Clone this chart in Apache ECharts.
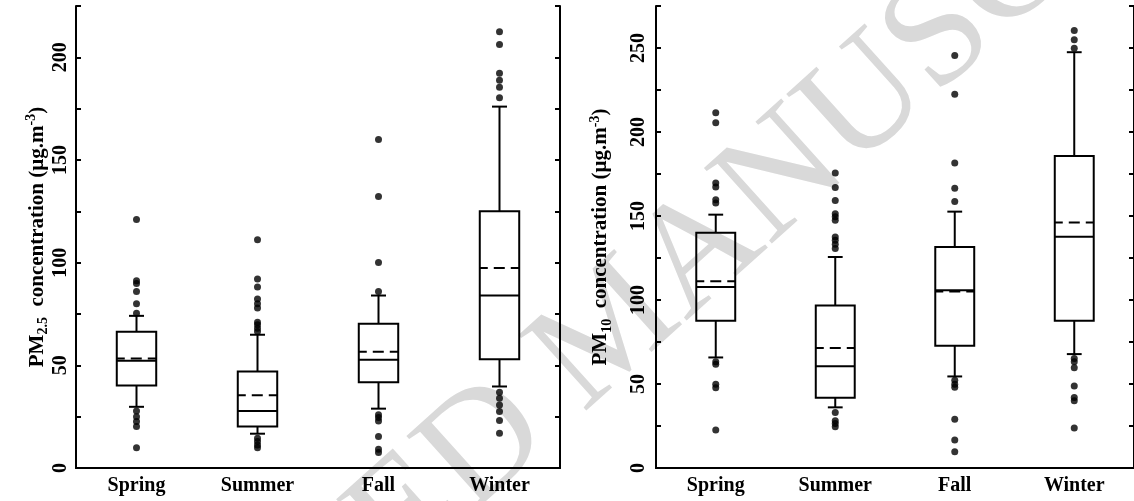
<!DOCTYPE html>
<html>
<head>
<meta charset="utf-8">
<script src="https://cdn.jsdelivr.net/npm/echarts@6/dist/echarts.min.js"></script>
<style>
html,body{margin:0;padding:0;background:#fff;}
#chart{width:1134px;height:501px;}
</style>
</head>
<body>
<div id="chart"></div>
<script>
// ---------- data ----------
const categories = ['Spring', 'Summer', 'Fall', 'Winter'];

// PM2.5 panel
const pm25WhiskerLow  = [29.8, 16.7, 28.9, 39.7];
const pm25Q1          = [40.2, 20.2, 41.8, 53.0];
const pm25Median      = [52.2, 27.8, 52.7, 84.0];
const pm25Q3          = [66.3, 47.0, 70.2, 125.0];
const pm25WhiskerHigh = [74.1, 64.9, 84.0, 176.0];
const pm25Mean        = [53.3, 35.4, 56.6, 97.4];
const pm25OutSpring = [121, 91.2, 89.9, 85.9, 80, 75.4, 27.8, 25, 22.6, 20.2, 9.9];
const pm25OutSummer = [111.2, 92, 88.1, 82.3, 80, 77.9, 71, 69.8, 68.1, 66.5, 14.5, 12.9, 11.2, 9.9];
const pm25OutFall   = [160, 132.2, 100.1, 86, 25.9, 24.6, 22.9, 15.3, 9.1, 7.6];
const pm25OutWinter = [212.4, 206.3, 192.2, 188.8, 185.4, 180.3, 36.9, 34, 30.7, 27.5, 23.1, 16.9];

// PM10 panel
const pm10WhiskerLow  = [65.8, 36.1, 54.5, 67.8];
const pm10Q1          = [87.6, 41.8, 72.7, 87.6];
const pm10Median      = [107.8, 60.6, 105.8, 137.7];
const pm10Q3          = [140.1, 96.7, 131.6, 185.7];
const pm10WhiskerHigh = [150.8, 125.6, 152.6, 247.5];
const pm10Mean        = [111.2, 71.5, 105.0, 146.1];
const pm10OutSpring = [211.5, 205.5, 169.6, 167.2, 159.7, 157.7, 63.2, 61.8, 49.9, 47.7, 22.6];
const pm10OutSummer = [175.6, 166.9, 159.3, 151.4, 149.5, 147.4, 137.5, 135.5, 133.2, 130.6, 33, 28.1, 26.5, 24.6];
const pm10OutFall   = [245.5, 222.5, 181.5, 166.5, 158.6, 52.3, 49.9, 48, 29, 16.6, 9.7];
const pm10OutWinter = [260.4, 254.9, 249.9, 65.2, 63.2, 59.6, 48.8, 42, 40, 23.8];

const pm25Max = 225, pm10Max = 275, tickStep = 25, labelStep = 50;
const watermarkText = 'ACCEPTED MANUSCRIPT';

// ---------- helpers ----------
const FONT = 'Liberation Serif';
function boxData(lo, q1, md, q3, hi, mean) {
  return categories.map((c, i) => [i, lo[i], q1[i], md[i], q3[i], hi[i], mean[i]]);
}
function outlierData(lists) {
  const out = [];
  lists.forEach((l, i) => l.forEach(v => out.push([i, v])));
  return out;
}
function renderBox(params, api) {
  const i = api.value(0);
  const lo = api.coord([i, api.value(1)]);
  const q1 = api.coord([i, api.value(2)]);
  const md = api.coord([i, api.value(3)]);
  const q3 = api.coord([i, api.value(4)]);
  const hi = api.coord([i, api.value(5)]);
  const mn = api.coord([i, api.value(6)]);
  const band = api.size([1, 0])[0];
  const cx = lo[0];
  const bw = band * 0.163, cw = band * 0.062;
  const st = {stroke: '#000', lineWidth: 2, fill: null};
  return {
    type: 'group',
    children: [
      {type: 'line', shape: {x1: cx, y1: q3[1], x2: cx, y2: hi[1]}, style: st},
      {type: 'line', shape: {x1: cx, y1: q1[1], x2: cx, y2: lo[1]}, style: st},
      {type: 'line', shape: {x1: cx - cw, y1: hi[1], x2: cx + cw, y2: hi[1]}, style: st},
      {type: 'line', shape: {x1: cx - cw, y1: lo[1], x2: cx + cw, y2: lo[1]}, style: st},
      {type: 'rect', shape: {x: cx - bw, y: q3[1], width: 2 * bw, height: q1[1] - q3[1]},
        style: {stroke: '#000', lineWidth: 2, fill: 'rgba(0,0,0,0)'}},
      {type: 'line', shape: {x1: cx - bw, y1: md[1], x2: cx + bw, y2: md[1]}, style: st},
      {type: 'line', shape: {x1: cx - bw, y1: mn[1], x2: cx + bw, y2: mn[1]},
        style: {stroke: '#000', lineWidth: 2, lineDash: [11, 6], lineDashOffset: 3}}
    ]
  };
}
function titleRich() {
  return {
    a: {fontFamily: FONT, fontWeight: 'bold', fontSize: 21, lineHeight: 26, color: '#000'},
    b: {fontFamily: FONT, fontWeight: 'bold', fontSize: 14, lineHeight: 12, verticalAlign: 'bottom', color: '#000'},
    c: {fontFamily: FONT, fontWeight: 'bold', fontSize: 14, lineHeight: 12, verticalAlign: 'top', color: '#000'}
  };
}
const lineSt = {color: '#000', width: 2};
function xAxes(gridIndex) {
  return [
    {type: 'category', gridIndex, data: categories, position: 'bottom',
     axisLine: {lineStyle: lineSt},
     axisTick: {inside: true, alignWithLabel: true, length: 6, lineStyle: {color: '#000', width: 2}},
     axisLabel: {fontFamily: FONT, fontWeight: 'bold', fontSize: 20, color: '#000', margin: 8},
     splitLine: {show: false}},
    {type: 'category', gridIndex, data: categories, position: 'top',
     axisLine: {lineStyle: lineSt},
     axisTick: {inside: true, alignWithLabel: true, length: 6, lineStyle: {color: '#000', width: 2}},
     axisLabel: {show: false}, splitLine: {show: false}}
  ];
}
function yAxes(gridIndex, max, name, nameGap, margin) {
  return [
    {type: 'value', gridIndex, min: 0, max, interval: tickStep, position: 'left',
     name, nameLocation: 'middle', nameRotate: 90, nameGap,
     nameTextStyle: {rich: titleRich()},
     axisLine: {show: true, lineStyle: lineSt},
     axisTick: {show: true, inside: true, length: 5, lineStyle: {color: '#000', width: 2}},
     axisLabel: {rotate: 90, margin, fontFamily: FONT, fontWeight: 'bold', fontSize: 20, color: '#000',
       formatter: v => (v % labelStep === 0 ? String(v) : '')},
     splitLine: {show: false}},
    {type: 'value', gridIndex, min: 0, max, interval: tickStep, position: 'right',
     axisLine: {show: true, lineStyle: lineSt},
     axisTick: {show: true, inside: true, length: 5, lineStyle: {color: '#000', width: 2}},
     axisLabel: {show: false}, splitLine: {show: false}}
  ];
}

const option = {
  animation: false,
  backgroundColor: '#fff',
  graphic: [{
    type: 'text', x: 615, y: 330, rotation: 42 * Math.PI / 180, z: -10, silent: true,
    style: {text: watermarkText, fontFamily: FONT, fontSize: 155, fill: '#d9d9d9', align: 'center', verticalAlign: 'middle'}
  }],
  grid: [
    {left: 76, top: 6, width: 484, height: 462},
    {left: 656, top: 6, width: 483, height: 462}
  ],
  xAxis: [...xAxes(0), ...xAxes(1)],
  yAxis: [
    ...yAxes(0, pm25Max, '{a|PM}{b|2.5}{a|  concentration (µg.m}{c|-3}{a|)}', 24, 5),
    ...yAxes(1, pm10Max, '{a|PM}{b|10}{a|  concentration (µg.m}{c|-3}{a|)}', 42, 7)
  ],
  series: [
    {type: 'custom', xAxisIndex: 0, yAxisIndex: 0, renderItem: renderBox, z: 3,
     data: boxData(pm25WhiskerLow, pm25Q1, pm25Median, pm25Q3, pm25WhiskerHigh, pm25Mean)},
    {type: 'scatter', xAxisIndex: 0, yAxisIndex: 0, symbol: 'circle', symbolSize: 7,
     itemStyle: {color: '#000'}, z: 4,
     data: outlierData([pm25OutSpring, pm25OutSummer, pm25OutFall, pm25OutWinter])},
    {type: 'custom', xAxisIndex: 2, yAxisIndex: 2, renderItem: renderBox, z: 3,
     data: boxData(pm10WhiskerLow, pm10Q1, pm10Median, pm10Q3, pm10WhiskerHigh, pm10Mean)},
    {type: 'scatter', xAxisIndex: 2, yAxisIndex: 2, symbol: 'circle', symbolSize: 7,
     itemStyle: {color: '#000'}, z: 4,
     data: outlierData([pm10OutSpring, pm10OutSummer, pm10OutFall, pm10OutWinter])}
  ]
};
const chart = echarts.init(document.getElementById('chart'), null, {renderer: 'canvas'});
chart.setOption(option);
</script>
</body>
</html>
